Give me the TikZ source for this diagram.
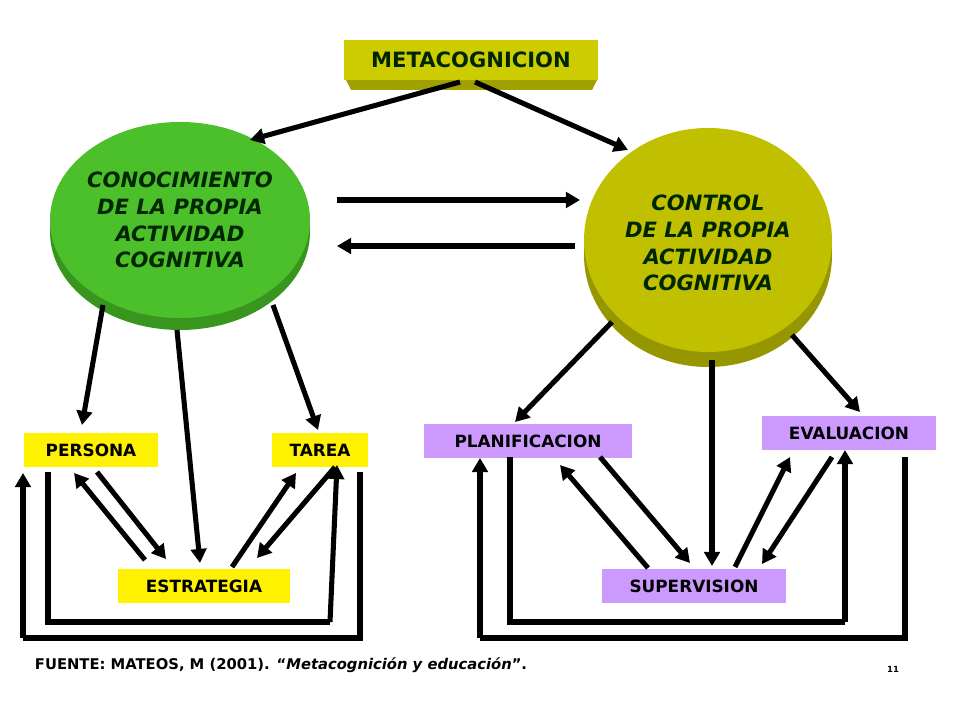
\documentclass[tikz,border=0pt]{standalone}
\usepackage{fontspec}
\setmainfont{DejaVu Sans}
\usetikzlibrary{arrows.meta,positioning}
\definecolor{metaolive}{RGB}{204,204,0}
\definecolor{metashade}{RGB}{160,160,0}
\definecolor{leafgreen}{RGB}{76,192,42}
\definecolor{leafshade}{RGB}{56,150,30}
\definecolor{ctrlolive}{RGB}{192,192,0}
\definecolor{ctrlshade}{RGB}{150,150,0}
\definecolor{lilac}{RGB}{204,153,255}
\begin{document}
\begin{tikzpicture}
 [x=0.025cm, y=-0.025cm,
 fat/.style={line width=3.6pt, -{Triangle[length=10pt,width=11pt]}},
 loop/.style={line width=3.6pt},
 ybox/.style={fill=yellow, font=\bfseries\fontsize{12}{14}\selectfont, inner sep=0pt, minimum height=0.84cm},
 pbox/.style={fill=lilac, font=\bfseries\fontsize{12}{14}\selectfont, inner sep=0pt, minimum height=0.84cm},
 bigtext/.style={font=\bfseries\itshape\fontsize{15}{19}\selectfont, text=black!85!green, align=center}]
 \useasboundingbox (0,0) rectangle (960,720);
 % top box
 \fill[metashade] (345,78) -- (598,78) -- (592,90) -- (351,90) -- cycle;
 \node (meta) [fill=metaolive, minimum width=6.33cm, minimum height=1cm, font=\bfseries\fontsize{15}{18}\selectfont, text=black!85!green] at (471,60) {METACOGNICION};
 % circles
 \fill[leafshade] (180,232) ellipse [x radius=130, y radius=98];
 \node (conoc) [ellipse/.style={}, circle, fill=leafgreen, minimum size=0cm, draw=none, inner sep=0pt] at (180,220) {};
 \fill[leafgreen] (180,220) ellipse [x radius=130, y radius=98];
 \node (conoctxt) [bigtext] at (180,220) {CONOCIMIENTO\\DE LA PROPIA\\ACTIVIDAD\\COGNITIVA};
 \fill[ctrlshade] (708,255) ellipse [x radius=124, y radius=112];
 \fill[ctrlolive] (708,240) ellipse [x radius=124, y radius=112];
 \node (ctrl) [bigtext] at (708,243) {CONTROL\\DE LA PROPIA\\ACTIVIDAD\\COGNITIVA};
 % boxes
 \node (pers) [ybox, minimum width=3.35cm] at (91,450) {PERSONA};
 \node (tarea) [ybox, minimum width=2.4cm] at (320,450) {TAREA};
 \node (estr) [ybox, minimum width=4.3cm] at (204,586) {ESTRATEGIA};
 \node (plan) [pbox, minimum width=5.2cm] at (528,441) {PLANIFICACION};
 \node (eval) [pbox, minimum width=4.35cm] at (849,433) {EVALUACION};
 \node (sup) [pbox, minimum width=4.6cm] at (694,586) {SUPERVISION};
 % arrows
 \draw[fat] (460,82) -- (250,140);
 \draw[fat] (475,82) -- (628,150);
 \draw[fat] (337,200) -- (580,200);
 \draw[fat] (575,246) -- (337,246);
 \draw[fat] (103,305) -- (82,425);
 \draw[fat] (177,330) -- (200,563);
 \draw[fat] (273,305) -- (318,430);
 \draw[fat] (145,560) -- (74,473);
 \draw[fat] (97,472) -- (166,559);
 \draw[fat] (232,567) -- (296,473);
 \draw[fat] (335,467) -- (257,558);
 \draw[loop] (48,472) -- (48,622) -- (330,622);
 \draw[fat] (330,622) -- (337,465);
 \draw[loop] (360,472) -- (360,638) -- (23,638);
 \draw[fat] (23,638) -- (23,473);
 \draw[fat] (612,322) -- (515,422);
 \draw[fat] (712,360) -- (712,566);
 \draw[fat] (792,335) -- (860,412);
 \draw[fat] (648,568) -- (560,465);
 \draw[fat] (600,457) -- (690,563);
 \draw[fat] (735,567) -- (790,457);
 \draw[fat] (832,457) -- (762,564);
 \draw[loop] (510,457) -- (510,622) -- (845,622);
 \draw[fat] (845,622) -- (845,450);
 \draw[loop] (905,457) -- (905,638) -- (480,638);
 \draw[fat] (480,638) -- (480,458);
 % source
 \node (src) [anchor=west, font=\bfseries\fontsize{10.5}{12}\selectfont] at (30,665) {FUENTE: MATEOS, M (2001). “\textit{Metacognición y educación}”.};
 \node (page) [font=\bfseries\fontsize{6}{7}\selectfont] at (893,669) {11};
\end{tikzpicture}
\end{document}
